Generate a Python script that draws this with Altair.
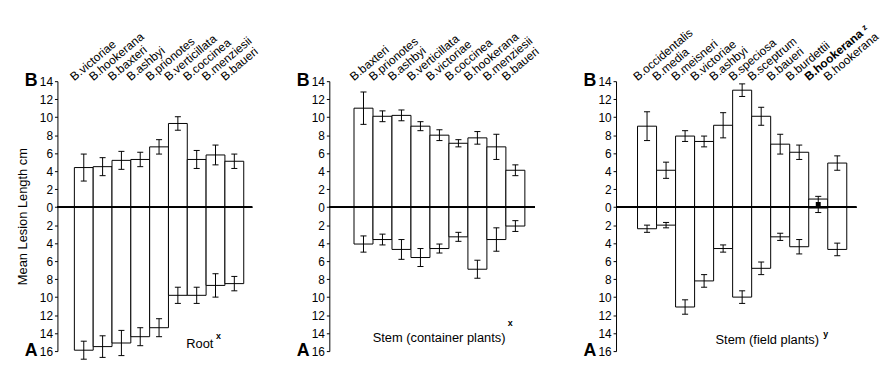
import altair as alt
import pandas as pd

# ---------------- data ----------------
p1_species = ["B.victoriae", "B.hookerana", "B.baxteri", "B.ashbyi", "B.prionotes",
              "B.verticillata", "B.coccinea", "B.menziesii", "B.baueri"]
p1_B = [4.4, 4.5, 5.2, 5.3, 6.7, 9.3, 5.3, 5.8, 5.1]
p1_B_err = [1.5, 1.0, 1.0, 0.8, 0.8, 0.75, 1.0, 1.1, 0.8]
p1_A = [15.9, 15.5, 15.1, 14.4, 13.4, 9.8, 9.8, 8.7, 8.5]
p1_A_err = [1.0, 1.2, 1.4, 1.0, 1.0, 0.9, 0.9, 1.3, 0.8]

p2_species = ["B.baxteri", "B.prionotes", "B.ashbyi", "B.verticillata", "B.victoriae",
              "B.coccinea", "B.hookerana", "B.menziesii", "B.baueri"]
p2_B = [11.0, 10.1, 10.2, 9.0, 8.0, 7.1, 7.7, 6.7, 4.1]
p2_B_err = [1.8, 0.6, 0.6, 0.5, 0.6, 0.4, 0.7, 1.4, 0.6]
p2_A = [4.1, 3.6, 4.7, 5.6, 4.6, 3.3, 6.9, 3.6, 2.1]
p2_A_err = [0.9, 0.6, 1.1, 1.0, 0.5, 0.5, 1.0, 1.3, 0.6]

p3_species = ["B.occidentalis", "B.media", "B.meisneri", "B.victoriae", "B.ashbyi",
              "B.speciosa", "B.sceptrum", "B.baueri", "B.burdettii", "B.hookerana ᶻ",
              "B.hookerana"]
p3_B = [9.0, 4.1, 7.9, 7.3, 9.1, 13.0, 10.1, 7.0, 6.1, 0.9, 4.9]
p3_B_err = [1.6, 0.9, 0.6, 0.6, 1.4, 0.7, 1.0, 1.1, 0.8, None, 0.8]
p3_A = [2.4, 2.0, 11.1, 8.2, 4.6, 10.0, 6.8, 3.3, 4.4, 0.1, 4.7]
p3_A_err = [0.4, 0.3, 0.8, 0.7, 0.4, 0.7, 0.7, 0.4, 0.8, None, 0.7]
p3_point_idx = 9
p3_point_mean = 0.3
p3_point_err = 0.9
p3_bold_idx = 9

y_ticks = [-16, -14, -12, -10, -8, -6, -4, -2, 0, 2, 4, 6, 8, 10, 12, 14]

FONT = "Liberation Sans"
H = 273


def panel(species, B, Berr, A, Aerr, xdom, width, zero_len, title, sup, title_px, title_v,
          sup_px, sup_v, ytitle=None, point=None, bold_idx=None):
    xs = alt.Scale(domain=xdom, nice=False, zero=False)
    ys = alt.Scale(domain=[-16, 14], nice=False, zero=False)
    n = len(species)
    bars = pd.DataFrame({
        "sp": species,
        "x0": list(range(n)),
        "x1": [i + 1 for i in range(n)],
        "top": B,
        "bot": [-a for a in A],
        "lx": [i + 0.0 for i in range(n)],
        "ly": [14.0] * n,
        "bold": [i == bold_idx for i in range(n)],
    })
    err_rows = []
    for i in range(n):
        if Berr[i] is not None:
            err_rows.append({"xc": i + 0.5, "lo": B[i] - Berr[i], "hi": B[i] + Berr[i]})
        if Aerr[i] is not None:
            err_rows.append({"xc": i + 0.5, "lo": -A[i] - Aerr[i], "hi": -A[i] + Aerr[i]})
    if point is not None:
        pi, pm, pe = point
        err_rows.append({"xc": pi + 0.5, "lo": pm - pe, "hi": pm + pe})
    err = pd.DataFrame(err_rows)
    err["xl"] = err["xc"] - 0.16
    err["xr"] = err["xc"] + 0.16
    caps = pd.concat([
        err[["xl", "xr"]].assign(y=err["lo"]),
        err[["xl", "xr"]].assign(y=err["hi"]),
    ])

    yaxis = alt.Axis(values=y_ticks, labelExpr="abs(datum.value)", grid=False,
                     labelOverlap=False, labelBound=False, labelFlush=False,
                     domainColor="black", tickColor="black", labelColor="black",
                     labelFont=FONT, labelFontSize=12, tickSize=3, labelPadding=2,
                     title=ytitle if ytitle else "", titleFont=FONT, titleFontSize=13,
                     titleFontWeight="normal", titleColor="black", titlePadding=10)

    X = lambda f: alt.X(f, scale=xs, axis=None)
    Y = lambda f: alt.Y(f, scale=ys, axis=yaxis)

    base_rect = alt.Chart(bars).mark_rect(fill="white", stroke="black", strokeWidth=1).encode(
        x=X("x0:Q"), x2="x1:Q", y=Y("top:Q"), y2="bot:Q")
    zero = alt.Chart(bars).mark_rule(color="black", strokeWidth=1).encode(
        y=alt.Y(datum=0, scale=ys, axis=yaxis), x=alt.value(0), x2=alt.value(zero_len))
    ebar = alt.Chart(err).mark_rule(color="black", strokeWidth=1).encode(
        x=X("xc:Q"), y=Y("lo:Q"), y2="hi:Q")
    ecap = alt.Chart(caps).mark_rule(color="black", strokeWidth=1).encode(
        x=X("xl:Q"), x2="xr:Q", y=Y("y:Q"))
    labels = alt.Chart(bars).transform_filter("!datum.bold").mark_text(
        angle=320, align="left", baseline="alphabetic",
        font=FONT, fontSize=12, color="black").encode(x=X("lx:Q"), y=Y("ly:Q"), text="sp:N")
    labels_b = alt.Chart(bars).transform_filter("datum.bold").mark_text(
        angle=320, align="left", baseline="alphabetic", fontWeight="bold",
        font=FONT, fontSize=12, color="black").encode(x=X("lx:Q"), y=Y("ly:Q"), text="sp:N")
    letters = alt.Chart(pd.DataFrame({"t": ["B", "A"], "v": [14, -16]})).mark_text(
        align="left", baseline="middle", font=FONT, fontSize=18, fontWeight="bold",
        color="black").encode(x=alt.value(-33), y=Y("v:Q"), text="t:N")
    ttl = alt.Chart(pd.DataFrame({"t": [title], "v": [title_v]})).mark_text(
        align="center", baseline="alphabetic", font=FONT, fontSize=13,
        color="black").encode(x=alt.value(title_px), y=Y("v:Q"), text="t:N")
    sp = alt.Chart(pd.DataFrame({"t": [sup], "v": [sup_v]})).mark_text(
        align="center", baseline="alphabetic", font=FONT, fontSize=9, fontWeight="bold",
        color="black").encode(x=alt.value(sup_px), y=Y("v:Q"), text="t:N")
    layers = [base_rect, zero, ebar, ecap]
    if point is not None:
        pdf = pd.DataFrame({"xc": [point[0] + 0.5], "m": [point[1]]})
        layers.append(alt.Chart(pdf).mark_square(size=25, color="black", opacity=1).encode(
            x=X("xc:Q"), y=Y("m:Q")))
    layers += [labels, labels_b, letters, ttl, sp]
    return alt.layer(*layers).properties(width=width, height=H)


p1 = panel(p1_species, p1_B, p1_B_err, p1_A, p1_A_err, [-0.9, 9.45], 197, 197,
           "Root", "x", 144, -15.67, 163, -14.68, ytitle="Mean Lesion Length cm")
p2 = panel(p2_species, p2_B, p2_B_err, p2_A, p2_A_err, [-1.3, 9.74], 212, 208,
           "Stem (container plants)", "x", 111, -15.0, 183, -13.25)
p3 = panel(p3_species, p3_B, p3_B_err, p3_A, p3_A_err, [-1.13, 11.5], 243, 243,
           "Stem (field plants)", "y", 153, -15.23, 212, -14.46,
           point=(p3_point_idx, p3_point_mean, p3_point_err), bold_idx=p3_bold_idx)

chart = alt.hconcat(p1, p2, p3, spacing=78, bounds="flush").properties(
    padding={"left": 8, "top": 12, "right": 0, "bottom": 0}
).configure(background="white").configure_view(stroke=None).configure_axisY(
    labelOverlap=False)

chart.save("out.html", embed_options={"renderer": "svg", "actions": False})
